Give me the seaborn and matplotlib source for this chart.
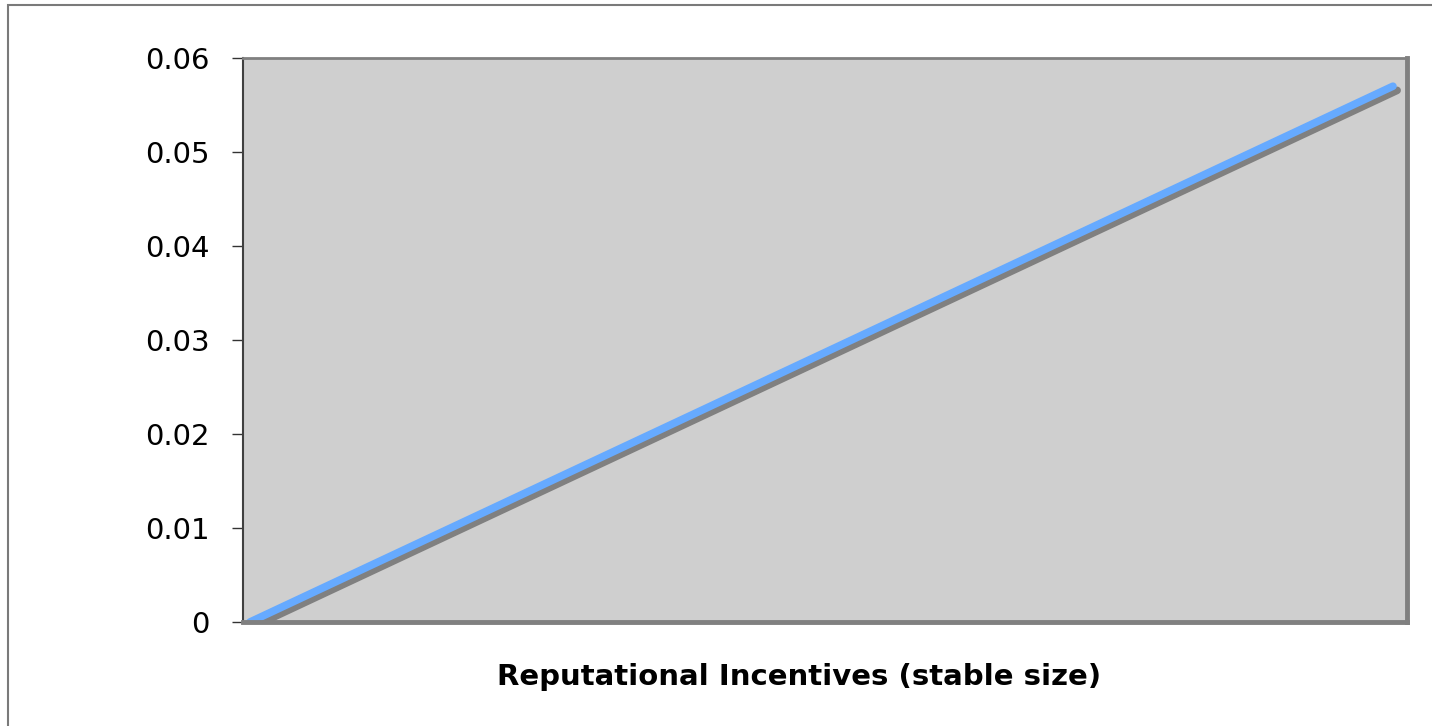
import matplotlib
matplotlib.use("Agg")
import matplotlib.pyplot as plt
import matplotlib.patheffects as pe
from matplotlib.patches import Rectangle
import seaborn as sns
import pandas as pd

# data (category index vs value)
steps = list(range(58))
values = [0.000, 0.001, 0.002, 0.003, 0.004, 0.005, 0.006, 0.007, 0.008, 0.009,
          0.010, 0.011, 0.012, 0.013, 0.014, 0.015, 0.016, 0.017, 0.018, 0.019,
          0.020, 0.021, 0.022, 0.023, 0.024, 0.025, 0.026, 0.027, 0.028, 0.029,
          0.030, 0.031, 0.032, 0.033, 0.034, 0.035, 0.036, 0.037, 0.038, 0.039,
          0.040, 0.041, 0.042, 0.043, 0.044, 0.045, 0.046, 0.047, 0.048, 0.049,
          0.050, 0.051, 0.052, 0.053, 0.054, 0.055, 0.056, 0.057]
y_ticks = [0, 0.01, 0.02, 0.03, 0.04, 0.05, 0.06]
y_labels = ["0", "0.01", "0.02", "0.03", "0.04", "0.05", "0.06"]
x_title = "Reputational Incentives (stable size)"

df = pd.DataFrame({"step": steps, "value": values})

sns.set_style("white")
plt.rcParams["font.family"] = ["DejaVu Sans"]

fig = plt.figure(figsize=(14.32, 7.26), dpi=100)
ax = fig.add_axes([243 / 1432, 1 - 622 / 726, (1407 - 243) / 1432, (622 - 58) / 726])
ax.set_facecolor("#cfcfcf")

sns.lineplot(data=df, x="step", y="value", ax=ax, color="#66aaff", linewidth=5.5,
             solid_capstyle="round",
             path_effects=[pe.SimpleLineShadow(offset=(3, -3), shadow_color="#808080", alpha=1),
                           pe.Normal()])

ax.set_xlim(-0.35, 57.7)
ax.set_ylim(0, 0.06)
ax.set_yticks(y_ticks)
ax.set_yticklabels(y_labels, fontsize=21, color="black")
ax.set_xticks([])
ax.tick_params(axis="y", direction="out", length=8, width=1, color="#333333", pad=16, left=True)
ax.set_ylabel("")
ax.set_xlabel(x_title, fontsize=21, fontweight="bold", color="black")
ax.xaxis.set_label_coords((799 - 243) / 1164, -(677 - 622) / 564)
ax.xaxis.label.set_verticalalignment("center")

for side in ["top", "right", "bottom"]:
    ax.spines[side].set_visible(True)
    ax.spines[side].set_color("#808080")
ax.spines["top"].set_linewidth(2)
ax.spines["right"].set_linewidth(3.5)
ax.spines["bottom"].set_linewidth(3.5)
ax.spines["left"].set_color("#404040")
ax.spines["left"].set_linewidth(1.5)

# outer chart border (only left and top visible in the original)
fig.patches.append(Rectangle((8 / 1432, -0.2), 1.2, 1.2 - 5 / 726, transform=fig.transFigure,
                             fill=False, edgecolor="#7a7a7a", linewidth=1.5))

fig.savefig("out.png", dpi=100)
